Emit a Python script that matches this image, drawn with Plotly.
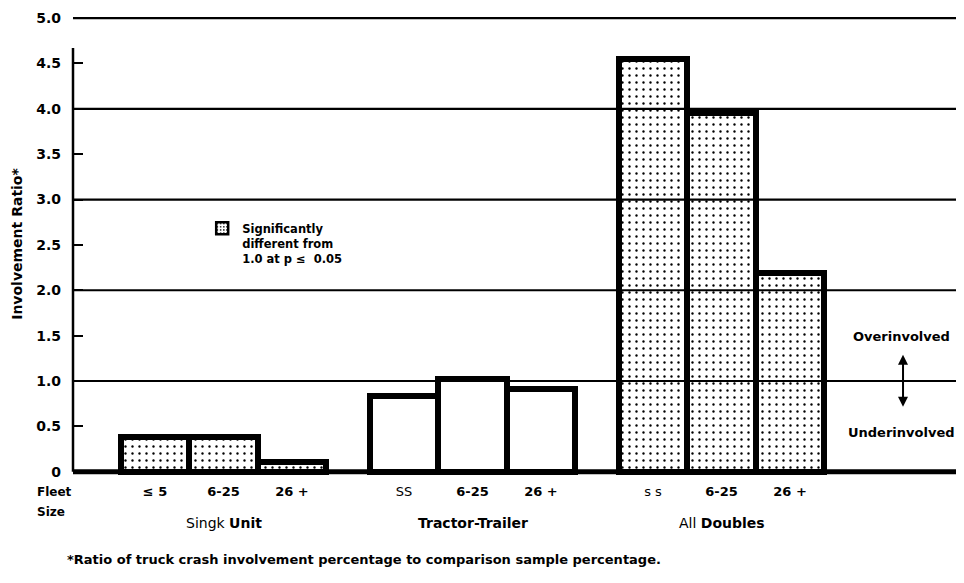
import plotly.graph_objects as go

# --- data ---
groups = ["Singk <b>Unit</b>", "<b>Tractor-Trailer</b>", "All <b>Doubles</b>"]
fleet_labels = [
    ["<b>≤ 5</b>", "<b>6-25</b>", "<b>26 +</b>"],
    ["SS", "<b>6-25</b>", "<b>26 +</b>"],
    ["s s", "<b>6-25</b>", "<b>26 +</b>"],
]
ratios = [
    [0.38, 0.38, 0.11],
    [0.84, 1.02, 0.91],
    [4.55, 3.95, 2.19],
]
significant = [
    [True, True, True],
    [False, False, False],
    [True, True, True],
]
y_ticks = [0, 0.5, 1.0, 1.5, 2.0, 2.5, 3.0, 3.5, 4.0, 4.5, 5.0]
y_ticktext = ["0", "0.5", "1.0", "1.5", "2.0", "2.5", "3.0", "3.5", "4.0", "4.5", "5.0"]
grid_levels = [1, 2, 3, 4, 5]

FONT = "DejaVu Sans"
GROUP_GAP = 3.635  # bar widths between group starts
DOTS = dict(shape=".", size=7, solidity=0.09, fgcolor="black", bgcolor="white", fillmode="replace")

# positions of bars on a numeric axis
xs, labels, vals, sig = [], [], [], []
for g in range(len(groups)):
    for i in range(3):
        xs.append(g * GROUP_GAP + i)
        labels.append(fleet_labels[g][i])
        vals.append(ratios[g][i])
        sig.append(significant[g][i])

sig_x = [x for x, s in zip(xs, sig) if s]
sig_y = [v for v, s in zip(vals, sig) if s]
ns_x = [x for x, s in zip(xs, sig) if not s]
ns_y = [v for v, s in zip(vals, sig) if not s]

fig = go.Figure()
fig.add_trace(go.Bar(
    x=ns_x, y=ns_y, width=1, showlegend=False,
    marker=dict(color="white", line=dict(color="black", width=6)),
))
fig.add_trace(go.Bar(
    x=sig_x, y=sig_y, width=1, showlegend=False,
    marker=dict(color="white", line=dict(color="black", width=6), pattern=DOTS),
))
# legend-only entry with a thinner outline so the dots show in the swatch
fig.add_trace(go.Bar(
    x=[None], y=[None], showlegend=True,
    name="Significantly<br>different from<br>1.0 at p ≤  0.05",
    marker=dict(color="white", line=dict(color="black", width=2.5),
                pattern=dict(shape=".", size=4, solidity=0.2, fgcolor="black",
                             bgcolor="white", fillmode="replace")),
))

# horizontal reference lines drawn over the bars
for lv in grid_levels:
    fig.add_shape(type="line", xref="paper", yref="y", x0=0, x1=1, y0=lv, y1=lv,
                  line=dict(color="black", width=2.2), layer="above")
# baseline and y axis line
fig.add_shape(type="line", xref="paper", yref="y", x0=0, x1=0.996, y0=0, y1=0,
              line=dict(color="black", width=5), layer="above")
fig.add_shape(type="line", xref="paper", yref="y", x0=0, x1=0, y0=0, y1=4.67,
              line=dict(color="black", width=2.5), layer="above")

# group labels
for g, name in enumerate(groups):
    fig.add_annotation(x=g * GROUP_GAP + 1, xref="x", y=-0.094, yref="paper",
                       text=name, showarrow=False, yanchor="middle",
                       font=dict(family=FONT, size=14, color="black"))

fig.add_annotation(x=-0.043, xref="paper", y=-0.028, yref="paper", text="<b>Fleet</b>",
                   showarrow=False, xanchor="left", yanchor="middle",
                   font=dict(family=FONT, size=12, color="black"))
fig.add_annotation(x=-0.043, xref="paper", y=-0.07, yref="paper", text="<b>Size</b>",
                   showarrow=False, xanchor="left", yanchor="middle",
                   font=dict(family=FONT, size=12, color="black"))

# over / under involved note
fig.add_annotation(x=10.9, xref="x", y=1.49, yref="y", text="<b>Overinvolved</b>",
                   showarrow=False, font=dict(family=FONT, size=13, color="black"))
fig.add_annotation(x=10.9, xref="x", y=0.43, yref="y", text="<b>Underinvolved</b>",
                   showarrow=False, font=dict(family=FONT, size=13, color="black"))
fig.add_annotation(x=10.92, y=1.29, ax=10.92, ay=0.70, xref="x", yref="y",
                   axref="x", ayref="y", text="", showarrow=True,
                   arrowhead=2, arrowside="end+start", arrowwidth=2, arrowsize=1,
                   arrowcolor="black")

# footnote
fig.add_annotation(x=-0.009, xref="paper", y=-0.172, yref="paper",
                   text="<b>*Ratio of truck crash involvement percentage to comparison sample percentage.</b>",
                   showarrow=False, xanchor="left", yanchor="middle",
                   font=dict(family=FONT, size=13, color="black"))

# the page adds an 8px body margin, so the figure is 8px smaller each way
fig.update_layout(
    width=956, height=575,
    margin=dict(l=65, r=0, t=1, b=104, autoexpand=False),
    plot_bgcolor="white", paper_bgcolor="white",
    barmode="overlay", bargap=0,
    font=dict(family=FONT, color="black"),
    legend=dict(x=0.145, y=0.563, xanchor="left", yanchor="top", valign="top",
                bgcolor="rgba(0,0,0,0)", itemwidth=30,
                font=dict(family=FONT, size=11.5, color="black", weight="bold")),
    xaxis=dict(
        range=[-1.197, 11.81], tickmode="array", tickvals=xs, ticktext=labels,
        showgrid=False, zeroline=False, showline=False, ticks="", automargin=False,
        ticklabelstandoff=3,
        tickfont=dict(family=FONT, size=13, color="black"),
    ),
    yaxis=dict(
        range=[-0.08, 5.1], tickmode="array", tickvals=y_ticks, ticktext=y_ticktext,
        showgrid=False, zeroline=False, showline=False, automargin=False,
        ticks="inside", ticklen=10, tickwidth=2, tickcolor="black",
        ticklabelstandoff=11,
        tickfont=dict(family=FONT, size=14, color="black", weight="bold"),
        title=dict(text="Involvement Ratio*", standoff=10,
                   font=dict(family=FONT, size=14, color="black", weight="bold")),
    ),
)

fig.write_html("out.html")
